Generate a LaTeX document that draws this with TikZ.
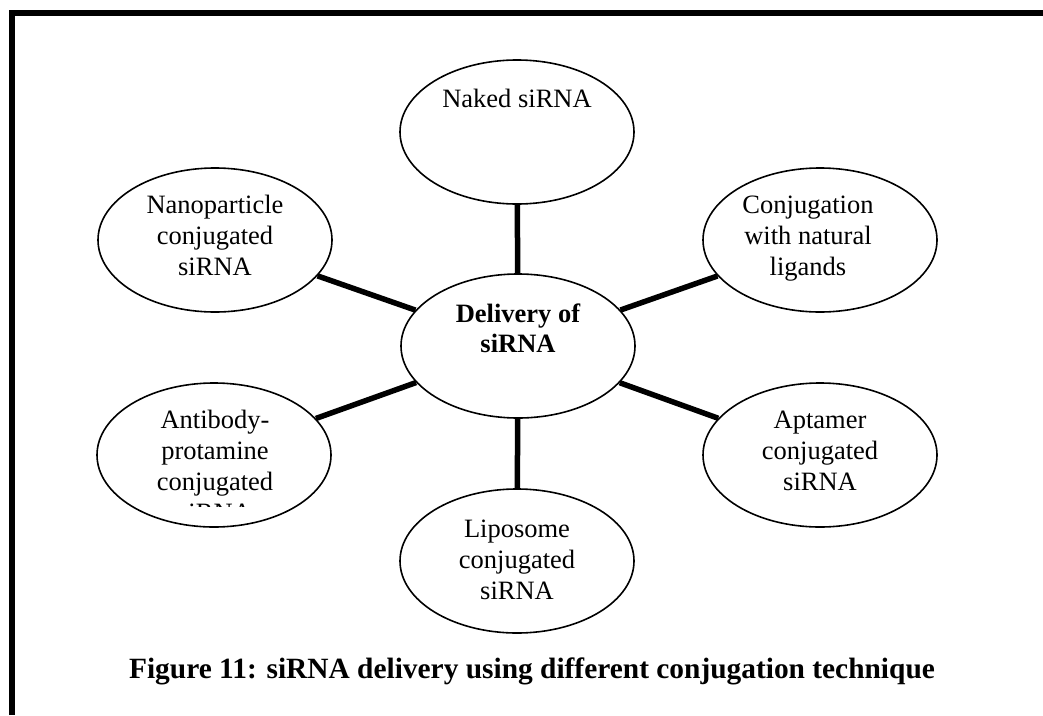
\documentclass[tikz,border=0pt]{standalone}
\usepackage{fontspec}
\setmainfont{Liberation Serif}
\usetikzlibrary{shapes.geometric}
\newcommand{\mlines}[1]{\begin{tabular}[t]{@{}c@{}}#1\end{tabular}}
\begin{document}
\begin{tikzpicture}[x=1pt,y=-1pt,
  bubble/.style={ellipse, draw, line width=1.6pt, minimum width=234pt, minimum height=144pt, inner sep=0pt},
  link/.style={line width=5.5pt},
  ltext/.style={anchor=base, inner sep=0pt, font=\fontsize{26.5}{31}\selectfont},
  frame/.style={line width=6pt, line join=miter}
  ]
\useasboundingbox (0,0) rectangle (1043,715);
% frame
\draw[frame] (12,715) -- (12,13) -- (1043,13);
% bubbles
\node[bubble] (center) at (518,346) {};
\node[bubble] (naked) at (517,132) {};
\node[bubble] (nano) at (215,240) {};
\node[bubble] (ligand) at (820,240) {};
\node[bubble] (anti) at (214,455) {};
\node[bubble] (apta) at (820,455) {};
\node[bubble] (lipo) at (517,561) {};
% connectors
\draw[link] (center) -- (naked);
\draw[link] (center) -- (nano);
\draw[link] (center) -- (ligand);
\draw[link] (center) -- (anti);
\draw[link] (center) -- (apta);
\draw[link] (center) -- (lipo);
% texts
\node[ltext, font=\fontsize{26.5}{30}\selectfont\bfseries] (tcenter) at (518,322) {\mlines{Delivery of\\siRNA}};
\node[ltext] (tnaked) at (517,107) {\mlines{Naked siRNA}};
\node[ltext] (tnano) at (215,213) {\mlines{Nanoparticle\\conjugated\\siRNA}};
\node[ltext] (tligand) at (808,213) {\mlines{Conjugation\\with natural\\ligands}};
\node[ltext] (tapta) at (820,428) {\mlines{Aptamer\\conjugated\\siRNA}};
\node[ltext] (tlipo) at (517,537) {\mlines{Liposome\\conjugated\\siRNA}};
\begin{scope}
\clip (90,380) rectangle (340,506);
\node[ltext] (tanti) at (215,428) {\mlines{Antibody-\\protamine\\conjugated\\siRNA}};
\end{scope}
% caption
\node[anchor=base, inner sep=0pt, font=\fontsize{29.4}{34}\selectfont\bfseries] (caption) at (532,678) {Figure 11: siRNA delivery using different conjugation technique};
\end{tikzpicture}
\end{document}
